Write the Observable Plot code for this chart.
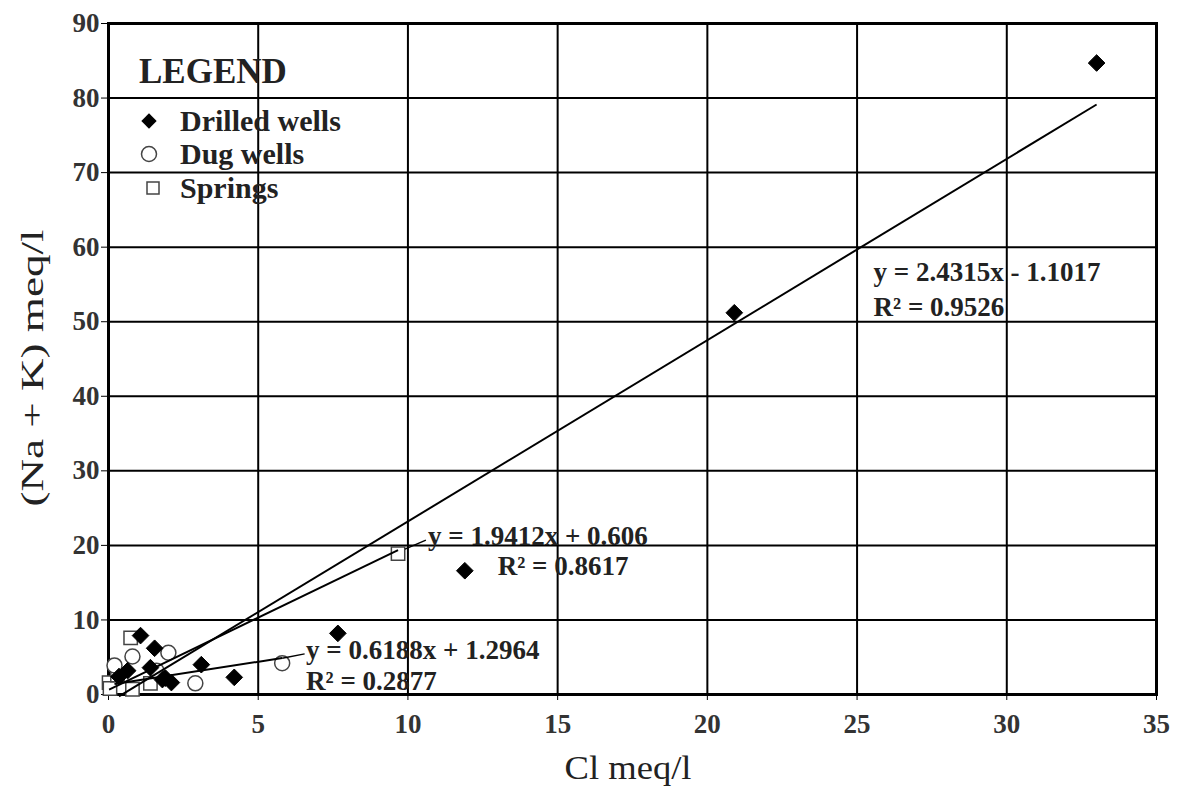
<!DOCTYPE html>
<html><head><meta charset="utf-8">
<script src="https://cdn.jsdelivr.net/npm/d3@7"></script>
<script src="https://cdn.jsdelivr.net/npm/@observablehq/plot@0.6"></script>
<style>
body{margin:0;background:#fff;}
#wrap{position:relative;width:1177px;height:794px;font-family:"Liberation Serif","Times New Roman",serif;}
</style></head><body><div id="wrap"></div>
<script>
// ---- data ----
const drilledCl  = [33.0, 20.9, 11.9, 7.66, 4.2, 3.1, 2.1, 1.9, 1.8, 1.54, 1.4, 1.07, 0.64, 0.35];
const drilledNaK = [84.7, 51.2, 16.6, 8.2, 2.3, 4.0, 1.6, 2.2, 2.0, 6.2, 3.6, 7.9, 3.2, 2.4];
const dugCl  = [5.8, 2.9, 2.0, 0.8, 0.2, 1.6];
const dugNaK = [4.2, 1.5, 5.6, 5.1, 3.9, 3.2];
const springCl  = [9.67, 0.74, 0.02, 0.05, 1.4, 0.8, 0.3];
const springNaK = [18.9, 7.6, 1.6, 0.8, 1.5, 0.7, 2.6];

const seriesNames = ["Drilled wells", "Dug wells", "Springs"];
const trendSlope = [2.4315, 0.6188, 1.9412];
const trendIntercept = [-1.1017, 1.2964, 0.606];
const trendFrom = [0.35, 0.2, 0.02];
const trendTo = [33.0, 5.8, 9.67];
const eqText = ["y = 2.4315x - 1.1017", "y = 0.6188x + 1.2964", "y = 1.9412x + 0.606"];
const eqX = [25.55, 6.6, 10.67];
const eqY = [55.5, 4.8, 20.0];
const r2Text = ["R\u00B2 = 0.9526", "R\u00B2 = 0.2877", "R\u00B2 = 0.8617"];
const r2X = [25.55, 6.6, 13.0];
const r2Y = [50.8, 0.55, 16.0];
// leader lines from trendline ends to the equation labels
const leaderX1 = [5.8, 9.9];
const leaderY1 = [4.85, 19.5];
const leaderX2 = [6.55, 10.6];
const leaderY2 = [5.45, 20.7];

const xTicks = [0, 5, 10, 15, 20, 25, 30, 35];
const yTicks = [0, 10, 20, 30, 40, 50, 60, 70, 80, 90];

// ---- tables built from arrays ----
const drilled = drilledCl.map((c, i) => ({cl: c, nak: drilledNaK[i]}));
const dug = dugCl.map((c, i) => ({cl: c, nak: dugNaK[i]}));
const springs = springCl.map((c, i) => ({cl: c, nak: springNaK[i]}));
const trendSegs = seriesNames.map((n, i) => ({
  x1: trendFrom[i], y1: trendSlope[i] * trendFrom[i] + trendIntercept[i],
  x2: trendTo[i], y2: trendSlope[i] * trendTo[i] + trendIntercept[i]
}));
const leaders = leaderX1.map((x, i) => ({x1: x, y1: leaderY1[i], x2: leaderX2[i], y2: leaderY2[i]}));
const eqs = eqText.map((t, i) => ({t, x: eqX[i], y: eqY[i]}));
const r2s = r2Text.map((t, i) => ({t, x: r2X[i], y: r2Y[i]}));

const serif = "Liberation Serif";
const chart = Plot.plot({
  width: 1177, height: 794,
  marginLeft: 108, marginRight: 21, marginTop: 23, marginBottom: 100,
  style: {fontFamily: serif, background: "#fff", color: "#000"},
  x: {domain: [0, 35], ticks: xTicks, label: null},
  y: {domain: [0, 90], ticks: yTicks, label: null},
  marks: [
    Plot.gridX(xTicks, {stroke: "#000", strokeOpacity: 1, strokeWidth: 2}),
    Plot.gridY(yTicks, {stroke: "#000", strokeOpacity: 1, strokeWidth: 2}),
    Plot.axisX(xTicks, {tickSize: 6, tickPadding: 13, fontSize: 27, fontWeight: "bold", fill: "#333", stroke: "#000"}),
    Plot.axisY(yTicks, {tickSize: 7, tickPadding: 2, fontSize: 27, fontWeight: "bold", fill: "#333", stroke: "#000"}),
    Plot.frame({stroke: "#000", strokeWidth: 3}),
    Plot.dot(springs, {x: "cl", y: "nak", symbol: "square2", r: 8.5, stroke: "#444", strokeWidth: 1.5, fill: "#fff"}),
    Plot.dot(dug, {x: "cl", y: "nak", symbol: "circle", r: 7.5, stroke: "#444", strokeWidth: 1.5, fill: "#fff"}),
    Plot.dot(drilled, {x: "cl", y: "nak", symbol: "diamond2", r: 7.5, fill: "#000", stroke: "#000", strokeWidth: 1}),
    Plot.link(trendSegs, {x1: "x1", y1: "y1", x2: "x2", y2: "y2", stroke: "#000", strokeWidth: 2}),
    Plot.link(leaders, {x1: "x1", y1: "y1", x2: "x2", y2: "y2", stroke: "#000", strokeWidth: 1.5}),
    Plot.text(eqs, {x: "x", y: "y", text: "t", textAnchor: "start", lineAnchor: "bottom", fontSize: 27, fontWeight: "bold", fill: "#222"}),
    Plot.text(r2s, {x: "x", y: "y", text: "t", textAnchor: "start", lineAnchor: "bottom", fontSize: 27, fontWeight: "bold", fill: "#222"})
  ]
});

const svg = d3.select(chart);
// axis titles
svg.append("text").attr("x", 628).attr("y", 779).attr("text-anchor", "middle")
  .attr("font-family", serif).attr("font-size", 34).attr("fill", "#222")
  .attr("textLength", 127).attr("lengthAdjust", "spacingAndGlyphs")
  .text("Cl meq/l");
svg.append("text").attr("transform", "translate(43,368) rotate(-90)").attr("text-anchor", "middle")
  .attr("font-family", serif).attr("font-size", 32).attr("fill", "#222")
  .attr("textLength", 277).attr("lengthAdjust", "spacingAndGlyphs")
  .text("(Na + K) meq/l");

// legend (inside plot area, drawn over grid)
const lg = svg.append("g").attr("font-family", serif).attr("font-weight", "bold").attr("fill", "#222").attr("text-anchor", "start");
lg.append("text").attr("x", 139).attr("y", 83).attr("font-size", 35).attr("text-anchor", "start").text("LEGEND");
const legendY = [121, 154, 188];
seriesNames.forEach((name, i) => {
  lg.append("text").attr("x", 180).attr("y", legendY[i] + 10).attr("font-size", 30).attr("text-anchor", "start").text(name);
});
lg.append("path").attr("d", d3.symbol(d3.symbolDiamond2, 150)()).attr("transform", `translate(149,${legendY[0]})`).attr("fill", "#000");
lg.append("circle").attr("cx", 149).attr("cy", legendY[1]).attr("r", 7.5).attr("fill", "#fff").attr("stroke", "#444").attr("stroke-width", 1.5);
lg.append("rect").attr("x", 147).attr("y", legendY[2] - 6).attr("width", 12).attr("height", 12).attr("fill", "#fff").attr("stroke", "#444").attr("stroke-width", 1.5);

document.getElementById("wrap").appendChild(chart);
</script>
</body></html>
